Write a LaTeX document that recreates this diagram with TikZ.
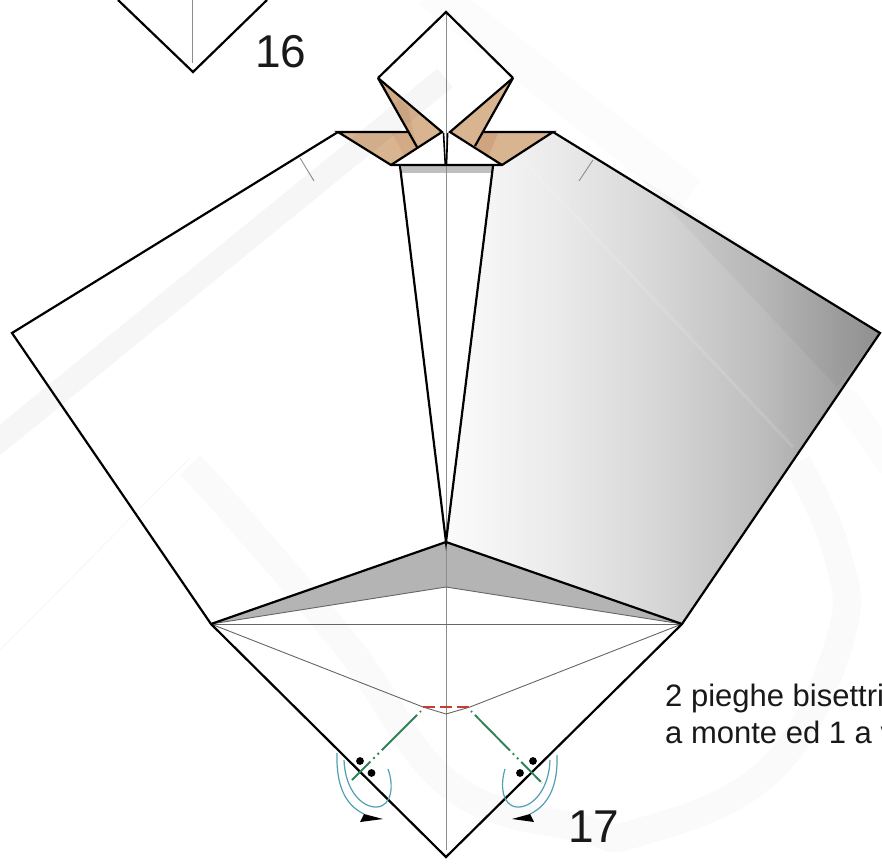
\documentclass[tikz,border=0pt]{standalone}
\usepackage{fontspec}
\setmainfont{Liberation Sans}
\definecolor{brownA}{RGB}{217,180,145}
\definecolor{brownB}{RGB}{200,155,115}
\definecolor{foldG}{RGB}{180,180,180}
\definecolor{mtn}{RGB}{46,130,85}
\definecolor{vly}{RGB}{200,60,50}
\definecolor{arw}{RGB}{80,160,180}
\pgfdeclarehorizontalshading{facegrad}{100bp}{
  rgb(0bp)=(1,1,1);
  rgb(25bp)=(.985,.985,.985);
  rgb(37.5bp)=(.92,.92,.92);
  rgb(49.5bp)=(.84,.84,.84);
  rgb(61bp)=(.745,.745,.745);
  rgb(75bp)=(.58,.58,.58);
  rgb(100bp)=(.58,.58,.58)}
\tikzset{
  edge/.style={draw=black,line width=2.2pt,line join=miter},
  thin line/.style={draw=black!60,line width=.9pt},
  hair/.style={draw=black!45,line width=.9pt},
  brownface/.style={fill=brownA},
  mark band/.style={draw=black,draw opacity=.035,line width=24pt},
  faint band/.style={draw=black,draw opacity=.02,line width=28pt,line cap=round},
  mountain/.style={draw=mtn,line width=1.9pt},
  valley/.style={draw=vly,line width=1.9pt,dash pattern=on 12pt off 5pt},
  curl/.style={draw=arw,line width=1.2pt},
  head/.style={fill=black},
  spot/.style={fill=black},
  bigno/.style={font=\fontsize{46}{46}\selectfont,text=black!90,inner sep=0pt,anchor=base west},
  caption/.style={font=\fontsize{31}{37}\selectfont,text=black!90,inner sep=0pt,anchor=base west}
}
\begin{document}
\begin{tikzpicture}[x=1pt,y=-1pt]
\clip (0,0) rectangle (882,866);
\fill[white] (0,0) rectangle (882,866);
% vertices
\coordinate (T) at (446,12);
\coordinate (DL) at (378,78);
\coordinate (DR) at (513,78);
\coordinate (CL) at (442,132);
\coordinate (CR) at (450,132);
\coordinate (SL) at (338,132);
\coordinate (SR) at (553,132);
\coordinate (BL) at (391,165);
\coordinate (BR) at (502,165);
\coordinate (FL) at (417,147);
\coordinate (FR) at (475,146);
\coordinate (HL) at (409,132);
\coordinate (HR) at (484,132);
\coordinate (KL) at (400,166);
\coordinate (KR) at (493,166);
\coordinate (K) at (446,542);
\coordinate (L) at (12,333);
\coordinate (R) at (880,333);
\coordinate (WL) at (211,624);
\coordinate (WR) at (682,624);
\coordinate (B) at (446,857);
\coordinate (M) at (446,587);
\coordinate (V) at (446,714);
\coordinate (RL) at (423,707);
\coordinate (RR) at (470,707);
\coordinate (GL0) at (421,711);
\coordinate (GL1) at (352,780);
\coordinate (GR0) at (471,711);
\coordinate (GR1) at (542,783);
% faint background bands
\draw[faint band,line cap=butt,line width=36pt,draw opacity=.012] (430,-10) -- (690,195);
\draw[faint band,draw opacity=.012] (847,403) -- (890,462);
\draw[faint band,line cap=butt] plot[smooth,tension=.7] coordinates {(190,465) (240,520) (350,650) (450,785) (580,828) (640,832) (770,770) (840,640) (837,553) (797,463)};
\draw[draw=black,draw opacity=.03,line width=1pt] (190,458) -- (0,650);
% right face
\shade[shading=facegrad] (KR) -- (BR) -- (SR) -- (R) -- (WR) -- (K) -- cycle;
\fill[black,opacity=.03] (640,178) -- (837,387) -- (R) -- cycle;
\draw[white,opacity=.12,line width=3pt] (523,160) -- (793,447);
% fold shades
\fill[foldG] (K) -- (WL) -- (M) -- (WR) -- cycle;
\fill[black!25] (402,166) rectangle (492,173);
% brown flaps
\fill[brownface] (SL) -- (HL) -- (FL) -- (BL) -- cycle;
\fill[brownface] (DL) -- (CL) -- (FL) -- cycle;
\fill[brownface] (SR) -- (HR) -- (FR) -- (BR) -- cycle;
\fill[brownface] (DR) -- (CR) -- (FR) -- cycle;
\fill[brownB,opacity=.6] (HR) -- (FR) -- (488,158) -- (498,133) -- cycle;
\fill[brownB,opacity=.4] (392,133) -- (HL) -- (FL) -- (404,155) -- cycle;
\fill[brownB,opacity=.4] (DL) -- (417,147) -- (408,108) -- cycle;
% thin lines
\draw[hair] (T) -- (446,850);
\draw[thin line] (WL) -- (WR);
\draw[thin line] (WL) -- (M) -- (WR);
\draw[thin line] (WL) -- (RL) -- (V) -- (RR) -- (WR);
\draw[hair] (300,158) -- (314,181);
\draw[hair] (593,160) -- (579,181);
\draw[hair] (192,0) -- (192,63);
% outlines
\draw[edge] (118,0) -- (193,72) -- (267,0);
\draw[edge] (DL) -- (T) -- (DR);
\draw[edge] (DL) -- (CL) -- (BL);
\draw[edge] (DL) -- (FL);
\draw[edge] (DR) -- (CR) -- (BR);
\draw[edge] (DR) -- (FR);
\draw[edge] (HL) -- (SL) -- (BL) -- (BR) -- (SR) -- (HR);
\draw[edge] (SL) -- (L) -- (WL) -- (B) -- (WR) -- (R) -- (SR);
\draw[edge] (KL) -- (K) -- (KR);
\draw[edge] (WL) -- (K) -- (WR);
\draw[edge,line width=1.6pt] (443.5,133) -- (445.3,165);
\draw[edge,line width=1.6pt] (447.6,133) -- (446.5,165);
% creases
\draw[valley] (RL) -- (RR);
\draw[mountain,dash pattern=on 1.5pt off 4pt on 50pt off 4pt on 2pt off 4pt on 2pt off 4pt on 28pt] (GL0) -- (GL1);
\draw[mountain,dash pattern=on 1.5pt off 4pt on 50pt off 4pt on 2pt off 4pt on 2pt off 4pt on 28pt] (GR0) -- (GR1);
% reference dots
\fill[spot] (360,761) circle (3.9);
\fill[spot] (371.5,773) circle (3.9);
\fill[spot] (533,761) circle (3.9);
\fill[spot] (520,773) circle (3.9);
% curls
\draw[curl] (337,753) .. controls (336,785) and (345,805) .. (364,814);
\draw[curl] (344,760) .. controls (345,790) and (362,808) .. (377,807) .. controls (392,806) and (394,785) .. (388,769);
\draw[curl] (557,755) .. controls (558,785) and (549,805) .. (530,814);
\draw[curl] (550,760) .. controls (549,790) and (532,808) .. (517,807) .. controls (502,806) and (500,785) .. (505,769);
\fill[head] (360,822) -- (364,814) -- (383,819) -- cycle;
\fill[head] (534,822) -- (530,814) -- (512,819) -- cycle;
% labels
\node[bigno] (n16) at (255,68) {16};
\node[bigno] (n17) at (568,842) {17};
\node[caption] (t1) at (665,706) {2 pieghe bisettri};
\node[caption] (t2) at (665,743) {a monte ed 1 a v};
% watermark band over the figure
\draw[mark band] (-10,448) -- (445,78);
\end{tikzpicture}
\end{document}
